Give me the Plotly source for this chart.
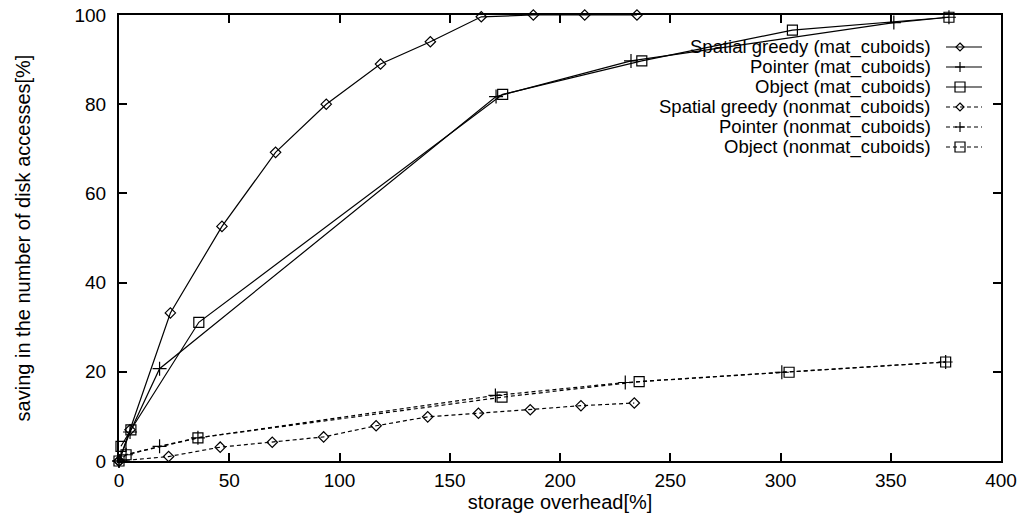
import plotly.graph_objects as go

# ---- data ----
sg_mat_x = [0, 5.0, 23.3, 46.7, 71.0, 94.0, 118.6, 141.2, 164.3, 187.9, 211.2, 234.9]
sg_mat_y = [0, 7.0, 33.2, 52.6, 69.2, 80.0, 89.0, 94.0, 99.6, 100, 100, 100]

ptr_mat_x = [0, 5.0, 18.4, 171.0, 232.2, 351.4, 376.4]
ptr_mat_y = [0, 6.5, 20.7, 81.7, 89.7, 98.3, 99.5]

obj_mat_x = [0.9, 5.4, 36.2, 174.0, 237.1, 305.4, 376.4]
obj_mat_y = [3.3, 7.0, 31.1, 82.2, 89.7, 96.6, 99.5]

sg_non_x = [0, 22.5, 45.9, 69.5, 92.8, 116.6, 140.0, 163.0, 186.5, 209.5, 233.7]
sg_non_y = [0, 1.0, 3.1, 4.2, 5.4, 7.9, 9.9, 10.7, 11.5, 12.4, 13.0]

ptr_non_x = [0, 3.2, 18.4, 35.8, 170.7, 229.6, 300.6, 374.9]
ptr_non_y = [0, 1.4, 3.3, 5.2, 14.7, 17.6, 19.9, 22.2]

obj_non_x = [0, 3.2, 35.8, 173.7, 235.9, 303.9, 374.9]
obj_non_y = [0, 1.4, 5.2, 14.3, 17.8, 19.9, 22.2]

series_names = [
    "Spatial greedy (mat_cuboids)",
    "Pointer (mat_cuboids)",
    "Object (mat_cuboids)",
    "Spatial greedy (nonmat_cuboids)",
    "Pointer (nonmat_cuboids)",
    "Object (nonmat_cuboids)",
]

x_ticks = [0, 50, 100, 150, 200, 250, 300, 350, 400]
y_ticks = [0, 20, 40, 60, 80, 100]

FONT = "Liberation Sans, Arial, Helvetica, sans-serif"
DASH = "4px,3px"

styles = [
    ("diamond-open", 8, "solid"),
    ("cross-thin-open", 10, "solid"),
    ("square-open", 10, "solid"),
    ("diamond-open", 8, DASH),
    ("cross-thin-open", 10, DASH),
    ("square-open", 10, DASH),
]
data = [
    (sg_mat_x, sg_mat_y), (ptr_mat_x, ptr_mat_y), (obj_mat_x, obj_mat_y),
    (sg_non_x, sg_non_y), (ptr_non_x, ptr_non_y), (obj_non_x, obj_non_y),
]

fig = go.Figure()
for (xs, ys), name, (sym, sz, dash) in zip(data, series_names, styles):
    fig.add_trace(go.Scatter(
        x=xs, y=ys, name=name, mode="lines+markers",
        line=dict(color="black", width=1.2, dash=dash),
        marker=dict(symbol=sym, size=sz, color="black",
                    line=dict(color="black", width=1.2)),
        cliponaxis=False, showlegend=False,
    ))

# ---- gnuplot-style key: right-aligned text, sample on the right ----
ML, MR, MT, MB = 119, 22, 15, 57
W, H = 1023, 518
pw, ph = W - ML - MR, H - MT - MB

def px_to_paper_x(px):
    return (px - ML) / pw

def py_to_paper_y(py):
    return (H - MB - py) / ph

row_y = [47, 67, 87, 107, 127, 147]
text_right = px_to_paper_x(933)
line_x0 = px_to_paper_x(946)
line_x1 = px_to_paper_x(982)
mark_x = px_to_paper_x(960)

annotations = []
shapes = []
for name, (sym, sz, dash), ry in zip(series_names, styles, row_y):
    yp = py_to_paper_y(ry)
    annotations.append(dict(
        text=name, x=text_right, y=yp, xref="paper", yref="paper",
        xanchor="right", yanchor="middle", showarrow=False,
        font=dict(family=FONT, size=18.5, color="black"),
    ))
    shapes.append(dict(
        type="line", xref="paper", yref="paper",
        x0=line_x0, x1=line_x1, y0=yp, y1=yp,
        line=dict(color="black", width=1.2, dash=dash),
    ))
    common = dict(xref="paper", yref="paper", xsizemode="pixel", ysizemode="pixel",
                  xanchor=mark_x, yanchor=yp, line=dict(color="black", width=1.2))
    if sym.startswith("diamond"):
        shapes.append(dict(type="path", path="M0,4 L4,0 L0,-4 L-4,0 Z", **common))
    elif sym.startswith("square"):
        shapes.append(dict(type="rect", x0=-5, x1=5, y0=-5, y1=5, **common))
    else:
        shapes.append(dict(type="line", x0=-5, x1=5, y0=0, y1=0, **common))
        shapes.append(dict(type="line", x0=0, x1=0, y0=-5, y1=5, **common))

axis_common = dict(
    showline=True, linecolor="black", linewidth=2, mirror="ticks",
    ticks="inside", ticklen=8, tickwidth=1.5, tickcolor="black",
    showgrid=False, zeroline=False,
    tickfont=dict(family=FONT, size=19, color="black"),
)

fig.update_layout(
    width=W, height=H,
    margin=dict(l=ML, r=MR, t=MT, b=MB, autoexpand=False),
    paper_bgcolor="white", plot_bgcolor="white",
    font=dict(family=FONT, color="black"),
    xaxis=dict(range=[0, 400], tickvals=x_ticks, ticktext=[str(v) for v in x_ticks],
               ticklabelstandoff=1,
               title=dict(text="storage overhead[%]", standoff=0,
                          font=dict(family=FONT, size=20, color="black")),
               **axis_common),
    yaxis=dict(range=[0, 100], tickvals=y_ticks, ticktext=[str(v) for v in y_ticks],
               ticklabelstandoff=7,
               title=dict(text="saving in the number of disk accesses[%]", standoff=38,
                          font=dict(family=FONT, size=20, color="black")),
               **axis_common),
    annotations=annotations,
    shapes=shapes,
    showlegend=False,
)

fig.write_html("out.html")
